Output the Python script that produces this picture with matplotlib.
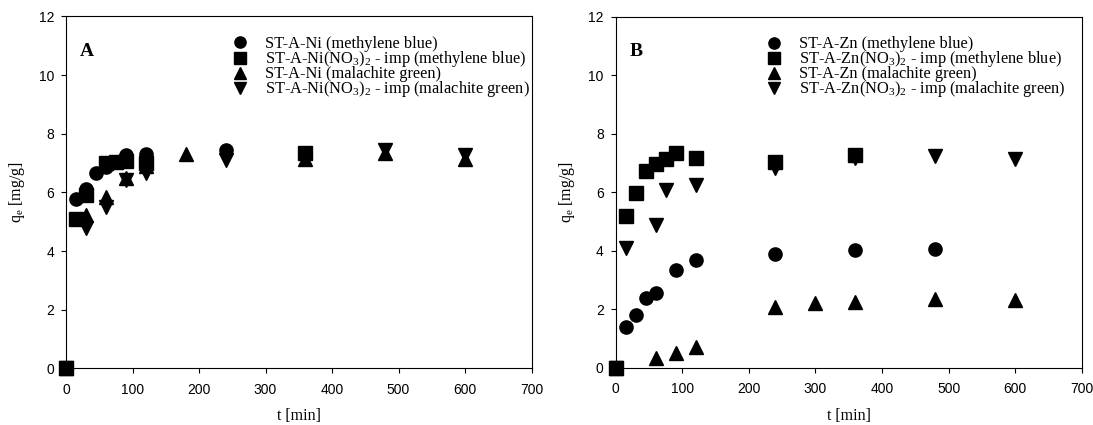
'''
  Adsorption kinetics of methylene blue and malachite green on ST-A-Ni and ST-A-Zn.
'''
import matplotlib
matplotlib.use("Agg")
import matplotlib.pyplot as plt

plt.rcParams['font.family'] = 'Liberation Sans'
plt.rcParams['mathtext.default'] = 'regular'

SERIF = 'Liberation Serif'

# panel A: ST-A-Ni
ni_mb_t = [0, 15, 30, 45, 60, 90, 120, 240]
ni_mb_q = [0, 5.77, 6.11, 6.66, 6.86, 7.28, 7.32, 7.45]
ni_imp_mb_t = [0, 15, 30, 60, 75, 90, 120, 360]
ni_imp_mb_q = [0, 5.10, 5.92, 7.00, 7.05, 7.08, 7.00, 7.36]
ni_mg_t = [0, 30, 60, 90, 120, 180, 360, 480, 600]
ni_mg_q = [0, 5.22, 5.83, 6.48, 6.90, 7.32, 7.15, 7.34, 7.14]
ni_imp_mg_t = [0, 30, 60, 90, 120, 240, 360, 480, 600]
ni_imp_mg_q = [0, 4.78, 5.50, 6.42, 6.66, 7.10, 7.30, 7.45, 7.28]

# panel B: ST-A-Zn
zn_mb_t = [0, 15, 30, 45, 60, 90, 120, 240, 360, 480]
zn_mb_q = [0, 1.40, 1.80, 2.40, 2.55, 3.35, 3.67, 3.89, 4.03, 4.06]
zn_imp_mb_t = [0, 15, 30, 45, 60, 75, 90, 120, 240, 360]
zn_imp_mb_q = [0, 5.17, 5.98, 6.72, 6.95, 7.12, 7.35, 7.18, 7.03, 7.26]
zn_mg_t = [0, 60, 90, 120, 240, 300, 360, 480, 600]
zn_mg_q = [0, 0.32, 0.49, 0.70, 2.07, 2.21, 2.26, 2.34, 2.30]
zn_imp_mg_t = [0, 15, 60, 75, 120, 240, 360, 480, 600]
zn_imp_mg_q = [0, 4.09, 4.89, 6.07, 6.24, 6.83, 7.18, 7.23, 7.14]

x_ticks = [0, 100, 200, 300, 400, 500, 600, 700]
y_ticks = [0, 2, 4, 6, 8, 10, 12]


def draw_panel(ax, letter, metal, series, legend_x):
  markers = ['o', 's', '^', 'v']
  labels = [
    'ST-A-%s (methylene blue)' % metal,
    'ST-A-%s(NO$_3$)$_2$ - imp (methylene blue)' % metal,
    'ST-A-%s (malachite green)' % metal,
    'ST-A-%s(NO$_3$)$_2$ - imp (malachite green)' % metal,
  ]
  for (t, q), m, lab in zip(series, markers, labels):
    ax.plot(t, q, linestyle='none', marker=m, ms=9.5, color='black',
            label=lab, clip_on=False, zorder=3)

  ax.set_xlim(0, 700)
  ax.set_ylim(0, 12)
  ax.set_xticks(x_ticks)
  ax.set_yticks(y_ticks)
  ax.tick_params(direction='out', length=3.6, width=0.8, labelsize=10,
                 top=False, right=False)
  ax.tick_params(axis='x', pad=7)
  ax.tick_params(axis='y', pad=5)
  for s in ax.spines.values():
    s.set_linewidth(0.8)

  ax.set_xlabel('t [min]', family=SERIF, fontsize=11.5, labelpad=8)
  ax.set_ylabel('q$_e$ [mg/g]', family=SERIF, fontsize=11.5, labelpad=8)

  ax.text(0.03, 0.9, letter, transform=ax.transAxes, family=SERIF,
          fontsize=14, fontweight='bold', va='center', ha='left')

  ax.legend(loc='upper left', bbox_to_anchor=(legend_x, 0.944), frameon=False,
            numpoints=1, markerscale=0.85, handlelength=1.0, handletextpad=1.05,
            labelspacing=-0.18, borderpad=0, borderaxespad=0,
            prop={'family': SERIF, 'size': 11.8})


fig = plt.figure(figsize=(10.93, 4.25), dpi=100)
ax1 = fig.add_axes([0.0604, 0.1332, 0.4259, 0.828])
ax2 = fig.add_axes([0.5633, 0.1348, 0.4264, 0.826])

draw_panel(ax1, 'A', 'Ni', [(ni_mb_t, ni_mb_q), (ni_imp_mb_t, ni_imp_mb_q),
                            (ni_mg_t, ni_mg_q), (ni_imp_mg_t, ni_imp_mg_q)], 0.356)
draw_panel(ax2, 'B', 'Zn', [(zn_mb_t, zn_mb_q), (zn_imp_mb_t, zn_imp_mb_q),
                            (zn_mg_t, zn_mg_q), (zn_imp_mg_t, zn_imp_mg_q)], 0.322)

fig.savefig('out.png', dpi=100)
